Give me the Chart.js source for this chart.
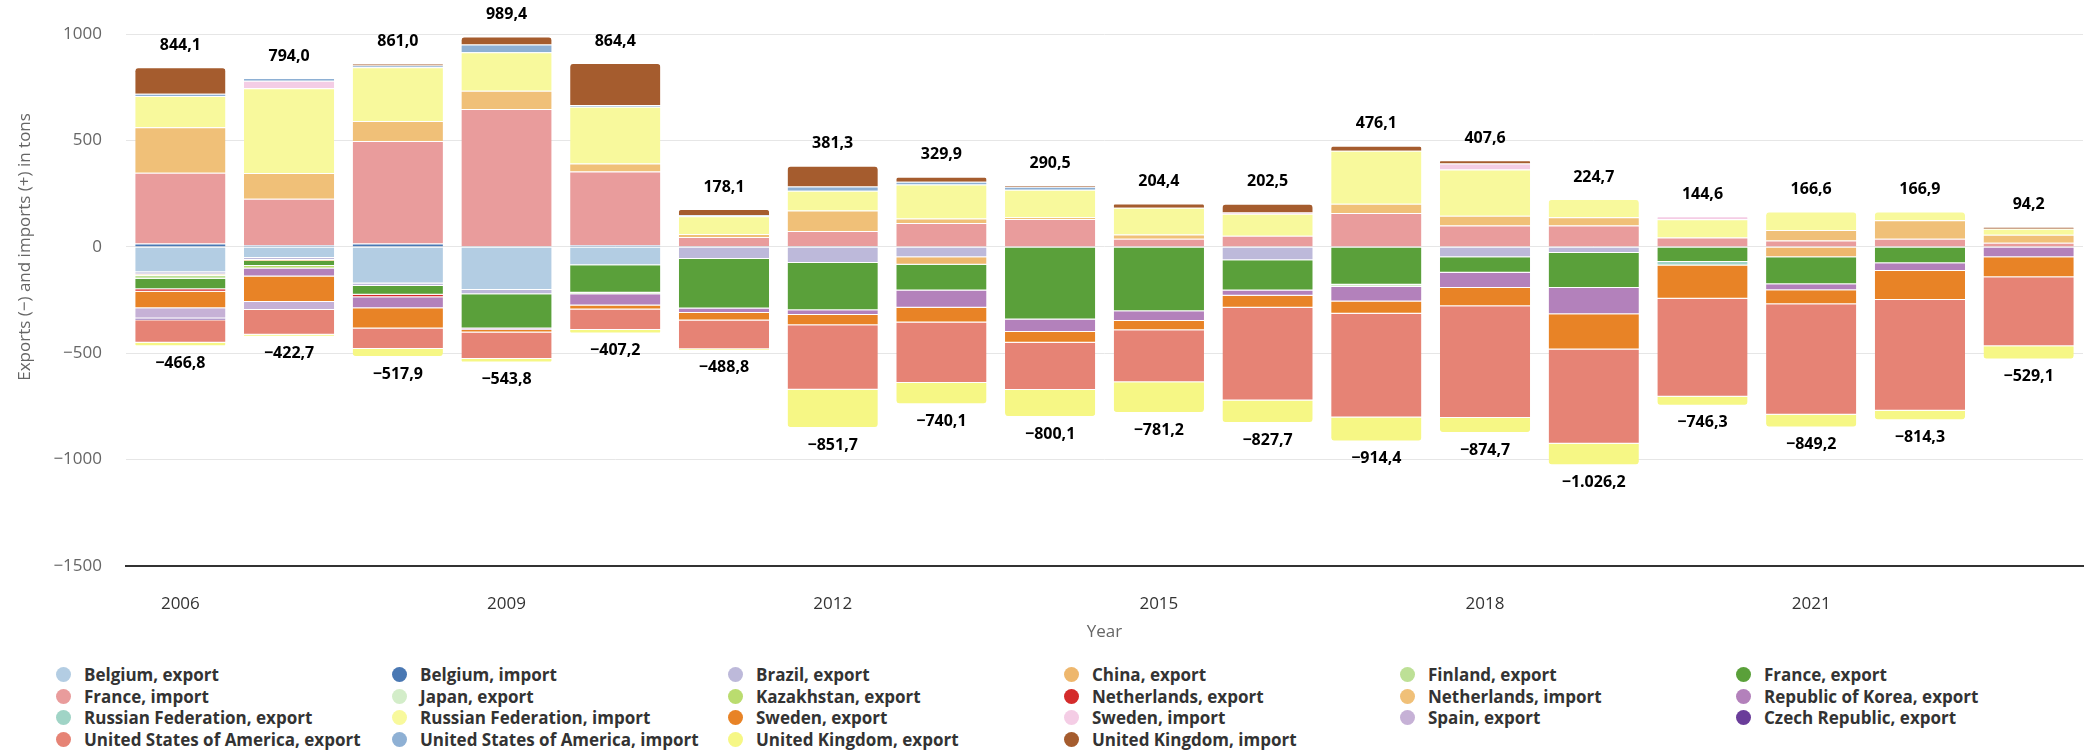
<!DOCTYPE html>
<html>
<head>
<meta charset="utf-8">
<script src="https://cdn.jsdelivr.net/npm/chart.js@4.4.1/dist/chart.umd.min.js"></script>
<style>
  body { margin: 0; background: #fff; }
  #wrap { position: relative; width: 2087px; height: 750px; }
  #box { position: absolute; left: 0; top: 0; width: 2087px; height: 650px; }
  #legend {
    position: absolute; left: 56px; top: 664px;
    display: grid; grid-template-columns: repeat(6, 336px); grid-auto-rows: 21.5px;
    font: bold 17px "Open Sans", sans-serif; color: #333;
  }
  .item { display: flex; align-items: center; white-space: nowrap; }
  .dot { width: 15px; height: 15px; border-radius: 50%; margin-right: 13px; flex: none; }
</style>
</head>
<body>
<div id="wrap">
  <div id="box"><canvas id="chart"></canvas></div>
  <div id="legend"></div>
</div>
<script>
// Years on the x axis
const years = ['2006', '2007', '2008', '2009', '2010', '2011', '2012', '2013', '2014',
  '2015', '2016', '2017', '2018', '2019', '2020', '2021', '2022', '2023'];

// Tons per year, exports negative, imports positive
const belgiumExport = [-119, -52, -172, -203, -86, 0, 0, 0, 0, 0, 0, 0, 0, 0, 0, 0, 0, 0];
const belgiumImport = [16, 8, 16, 3, 8, 3, 3, 0, 0, 0, 0, 0, 0, 0, 0, 0, 0, 0];
const brazilExport = [-11, -9, -12, -20, 0, -57, -76, -48, 0, 0, -63, 0, -49, -28, 0, 0, 0, 0];
const chinaExport = [-5, -5, 0, 0, 0, 0, 0, -35.5, 0, 0, 0, 0, 0, 0, 0, -48, 0, 0];
const finlandExport = [-15, 0, 0, 0, 0, 0, 0, 0, 0, 0, 0, 0, 0, 0, 0, 0, 0, 0];
const franceExport = [-49, -24, -41, -160, -129, -232, -222, -121, -341, -302, -142, -178, -72, -165, -71, -128, -77, 0];
const franceImport = [333, 219, 482, 645.4, 346, 44, 72, 111.9, 131.5, 38, 53, 159, 101, 101, 44, 30, 38, 20];
const japanExport = [0, 0, 0, 0, -8, 0, 0, 0, 0, 0, 0, -11, 0, 0, 0, 0, 0, 0];
const kazakhstanExport = [0, -12, 0, 0, 0, 0, 0, 0, 0, 0, 0, 0, 0, 0, 0, 0, 0, 0];
const netherlandsExport = [-12, 0, -12, 0, 0, 0, 0, 0, 0, 0, 0, 0, 0, 0, 0, 0, 0, 0];
const netherlandsImport = [213, 121, 94, 86, 38, 14, 96, 22, 8, 20, 0, 44, 46, 38, 0, 50, 86.9, 37.2];
const koreaExport = [0, -37, -51, -8, -52, -22, -22, -81, -59, -46, -24, -67, -72, -124, 0, -28, -36, -49];
const russiaExport = [0, 0, 0, 0, 0, 0, 0, 0, 0, 0, 0, 0, 0, 0, -16, 0, 0, 0];
const russiaImport = [147, 398, 253, 181, 267, 83.1, 93.3, 159, 129, 126.4, 103.5, 249.1, 216.6, 85.7, 86.6, 86.6, 42, 28];
const swedenExport = [-77, -120, -95, -11, -19, -35, -48, -70, -50, -44, -57, -58, -86, -165, -157, -65, -137, -94];
const swedenImport = [0, 35, 0, 0, 0, 0, 0, 0, 0, 0, 5, 0, 28, 0, 14, 0, 0, 0];
const spainExport = [-49, -38, 0, 0, 0, 0, 0, 0, 0, 0, 0, 0, 0, 0, 0, 0, 0, 0];
const czechExport = [-8, 0, 0, 0, 0, 0, 0, 0, 0, 0, 0, 0, 0, 0, 0, 0, 0, 0];
const usaExport = [-106, -116, -97, -124.8, -97, -135, -304, -284, -223, -244, -436, -488, -524.7, -443.2, -460.3, -520, -520.3, -324];
const usaImport = [11, 13, 8, 36, 8, 6, 20, 13, 14, 0, 0, 0, 0, 0, 0, 0, 0, 0];
const ukExport = [-15.8, -9.7, -37.9, -17, -16.2, -7.8, -179.7, -100.6, -127.1, -145.2, -105.7, -112.4, -71, -101, -42, -60.2, -44, -62.1];
const ukImport = [124.1, 0, 8, 38, 197.4, 28, 97, 24, 8, 20, 41, 24, 16, 0, 0, 0, 0, 9];

const yTicks = [-1500, -1000, -500, 0, 500, 1000];

// legend order is also the stacking order (first = next to zero)
const series = [
  ['Belgium, export', belgiumExport, '#b3cde3'],
  ['Belgium, import', belgiumImport, '#4a78b3'],
  ['Brazil, export', brazilExport, '#bdb9da'],
  ['China, export', chinaExport, '#eeb76d'],
  ['Finland, export', finlandExport, '#bde096'],
  ['France, export', franceExport, '#5aa03a'],
  ['France, import', franceImport, '#e99c9c'],
  ['Japan, export', japanExport, '#d3edc9'],
  ['Kazakhstan, export', kazakhstanExport, '#badc6f'],
  ['Netherlands, export', netherlandsExport, '#d42b2b'],
  ['Netherlands, import', netherlandsImport, '#f0c078'],
  ['Republic of Korea, export', koreaExport, '#b381bb'],
  ['Russian Federation, export', russiaExport, '#a0d4c6'],
  ['Russian Federation, import', russiaImport, '#f8f99c'],
  ['Sweden, export', swedenExport, '#e88326'],
  ['Sweden, import', swedenImport, '#f4cde5'],
  ['Spain, export', spainExport, '#c6b1d6'],
  ['Czech Republic, export', czechExport, '#6a3d9a'],
  ['United States of America, export', usaExport, '#e68375'],
  ['United States of America, import', usaImport, '#8eb0d4'],
  ['United Kingdom, export', ukExport, '#f6f785'],
  ['United Kingdom, import', ukImport, '#a55c2e']
];

const FONT = '"Open Sans", sans-serif';

function fmt(v) {
    const s = Math.abs(v).toFixed(1);
    let [i, d] = s.split('.');
    i = i.replace(/\B(?=(\d{3})+(?!\d))/g, '.');
    return (v < 0 ? '\u2212' : '') + i + ',' + d;
}

// stack totals above / below each bar
const totalsPlugin = {
    id: 'totals',
    afterDatasetsDraw(chart) {
        const { ctx, scales: { x, y } } = chart;
        ctx.save();
        ctx.font = 'bold 16px ' + FONT;
        ctx.fillStyle = '#000';
        ctx.textAlign = 'center';
        ctx.textBaseline = 'middle';
        years.forEach((yr, i) => {
            let pos = 0, neg = 0;
            chart.data.datasets.forEach(ds => {
                const v = ds.data[i];
                if (v > 0) pos += v; else neg += v;
            });
            const cx = x.getPixelForValue(i);
            if (pos > 0) ctx.fillText(fmt(pos), cx, y.getPixelForValue(pos) - 22);
            if (neg < 0) ctx.fillText(fmt(neg), cx, y.getPixelForValue(neg) + 17);
        });
        ctx.restore();
    }
};

// y axis title sits centred on the zero line
const yTitlePlugin = {
    id: 'ytitle',
    afterDraw(chart) {
        const { ctx, scales: { y } } = chart;
        ctx.save();
        ctx.translate(25, y.getPixelForValue(0));
        ctx.rotate(-Math.PI / 2);
        ctx.font = '17px ' + FONT;
        ctx.fillStyle = '#666';
        ctx.textAlign = 'center';
        ctx.textBaseline = 'middle';
        ctx.fillText('Exports (\u2212) and imports (+) in tons', 0, 0);
        ctx.restore();
    }
};

const datasets = series.map(([label, data, color]) => ({
    label,
    data,
    backgroundColor: color,
    borderColor: 'rgba(255,255,255,0.45)',
    borderWidth: { top: 1, bottom: 1, left: 0, right: 0 },
    borderRadius: 4,
    categoryPercentage: 0.83,
    barPercentage: 1
}));

new Chart(document.getElementById('chart'), {
    type: 'bar',
    data: { labels: years, datasets },
    options: {
        responsive: true,
        maintainAspectRatio: false,
        animation: false,
        devicePixelRatio: 1,
        layout: { padding: { top: 33, right: 4, left: 0, bottom: 0 } },
        scales: {
            x: {
                stacked: true,
                grid: { display: false },
                border: { display: true, color: '#333', width: 2 },
                ticks: {
                    autoSkip: false,
                    maxRotation: 0,
                    padding: 20,
                    color: '#333',
                    font: { family: FONT, size: 17 },
                    callback: function (v, idx) { return idx % 3 === 0 ? this.getLabelForValue(v) : ''; }
                },
                title: {
                    display: true,
                    text: 'Year',
                    color: '#666',
                    font: { family: FONT, size: 17 },
                    padding: { top: 4, bottom: 8 }
                },
                afterFit: s => { s.height = 84; }
            },
            y: {
                stacked: true,
                min: yTicks[0],
                max: yTicks[yTicks.length - 1],
                afterBuildTicks: s => { s.ticks = yTicks.map(v => ({ value: v })); },
                grid: {
                    drawTicks: false,
                    color: c => (c.tick && c.tick.value === -1500) ? 'rgba(0,0,0,0)' : '#e6e6e6'
                },
                border: { display: false },
                ticks: {
                    padding: 24,
                    color: '#666',
                    font: { family: FONT, size: 17 },
                    callback: v => String(v).replace('-', '\u2212')
                },
                afterFit: s => { s.width = 126; }
            }
        },
        plugins: {
            legend: { display: false },
            tooltip: { enabled: false }
        }
    },
    plugins: [totalsPlugin, yTitlePlugin]
});

// html legend in a fixed 6 column grid
const legendEl = document.getElementById('legend');
series.forEach(([label, , color]) => {
    const item = document.createElement('div');
    item.className = 'item';
    item.innerHTML = '<span class="dot" style="background:' + color + '"></span><span>' + label + '</span>';
    legendEl.appendChild(item);
});
</script>
</body>
</html>
